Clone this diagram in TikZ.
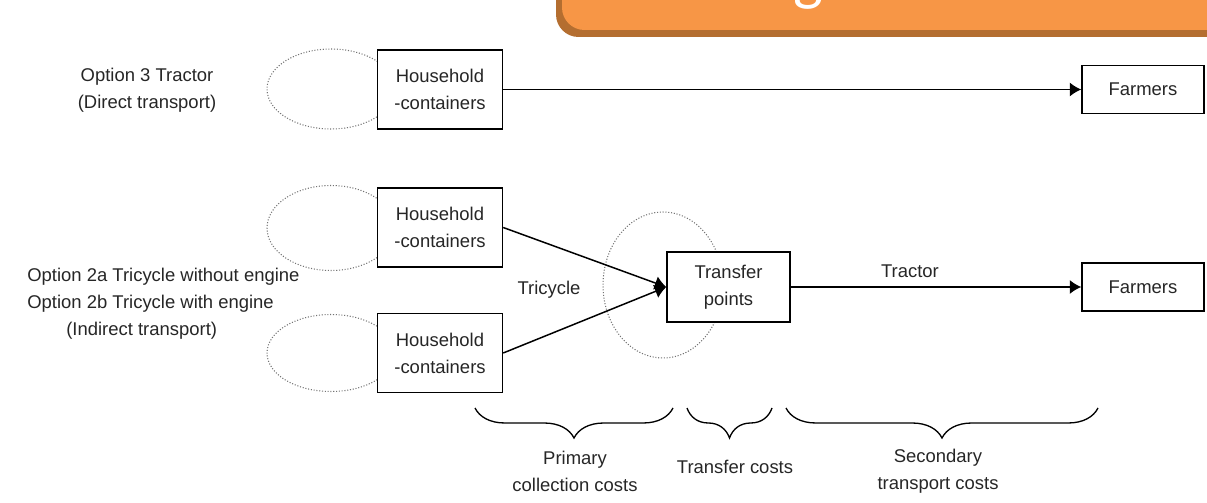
\documentclass[tikz,border=0pt]{standalone}
\usepackage{fontspec}
\setmainfont{Liberation Sans}
\newfontfamily\bannerfont{Carlito}
\usetikzlibrary{arrows.meta,decorations.pathreplacing}

\definecolor{bannerorange}{HTML}{F79646}
\definecolor{bannershadow}{HTML}{B46E30}
\definecolor{inkgray}{HTML}{262626}

\begin{document}
\begin{tikzpicture}[x=0.02cm,y=-0.02cm,
    font=\fontsize{10.5}{15.3}\selectfont, text=inkgray,
    box/.style={draw, fill=white, line width=0.85pt, align=center,
        minimum width=2.5cm, minimum height=1.58cm, inner sep=0pt},
    ring/.style={densely dotted, black!55, line width=0.6pt},
    flow/.style={-{Latex[length=6.5pt,width=8pt]}, line width=0.85pt},
    costbrace/.style={decorate, decoration={brace, mirror, amplitude=0.6cm}, line width=0.75pt}]

\useasboundingbox (0,0) rectangle (1207,503);

% Titelbalken (abgeschnitten)
\begin{scope}
    \clip (0,0) rectangle (1207,503);
    \fill[bannershadow, rounded corners=0.45cm] (556,-40) rectangle (1240,37);
    \fill[bannerorange, rounded corners=0.45cm] (562,-40) rectangle (1240,30);
    \node[white, font=\bannerfont\fontsize{36}{40}\selectfont, anchor=base] (title) at (808,-1) {g};
\end{scope}

% Sammelbereiche
\draw[ring] (331,89) ellipse [x radius=1.28cm, y radius=0.8cm];
\draw[ring] (331,228) ellipse [x radius=1.28cm, y radius=0.85cm];
\draw[ring] (331,353) ellipse [x radius=1.28cm, y radius=0.77cm];
\draw[ring] (663,285) ellipse [x radius=1.2cm, y radius=1.46cm];

% Option 3 (direkt)
\node[align=center] (opt3) at (147,90) {Option 3 Tractor\\(Direct transport)};
\node[box] (house1) at (440,89.5) {Household\\-containers};
\node[box, minimum width=2.44cm, minimum height=0.96cm] (farm1) at (1143,89.5) {Farmers};
\draw[flow] (house1) -- (farm1);

% Option 2a/2b (indirekt)
\node[anchor=west, align=left, inner sep=0pt] (opt2) at (27,304)
    {Option 2a Tricycle without engine\\Option 2b Tricycle with engine\\\hspace*{0.78cm}(Indirect transport)};
\node[box] (house2) at (440,227.5) {Household\\-containers};
\node[box] (house3) at (440,353) {Household\\-containers};
\node[box, minimum width=2.46cm, minimum height=1.4cm] (transfer) at (728.5,287) {Transfer\\points};
\node[box, minimum width=2.44cm, minimum height=0.96cm] (farm2) at (1143,287) {Farmers};
\draw[flow] (house2.east) -- (transfer.west);
\draw[flow] (house3.east) -- (transfer.west);
\draw[flow] (transfer) -- (farm2);
\node (tricycle) at (549,290) {Tricycle};
\node (tractor) at (910,271) {Tractor};

% Kosten
\draw[costbrace] (475,408) -- (673,408);
\draw[costbrace] (687,408) -- (772,408);
\draw[costbrace] (786,408) -- (1098,408);
\node[align=center] (primary) at (575,471) {Primary\\collection costs};
\node (transfercost) at (735,467) {Transfer costs};
\node[align=center] (secondary) at (938,471) {Secondary\\transport costs};

\end{tikzpicture}
\end{document}
